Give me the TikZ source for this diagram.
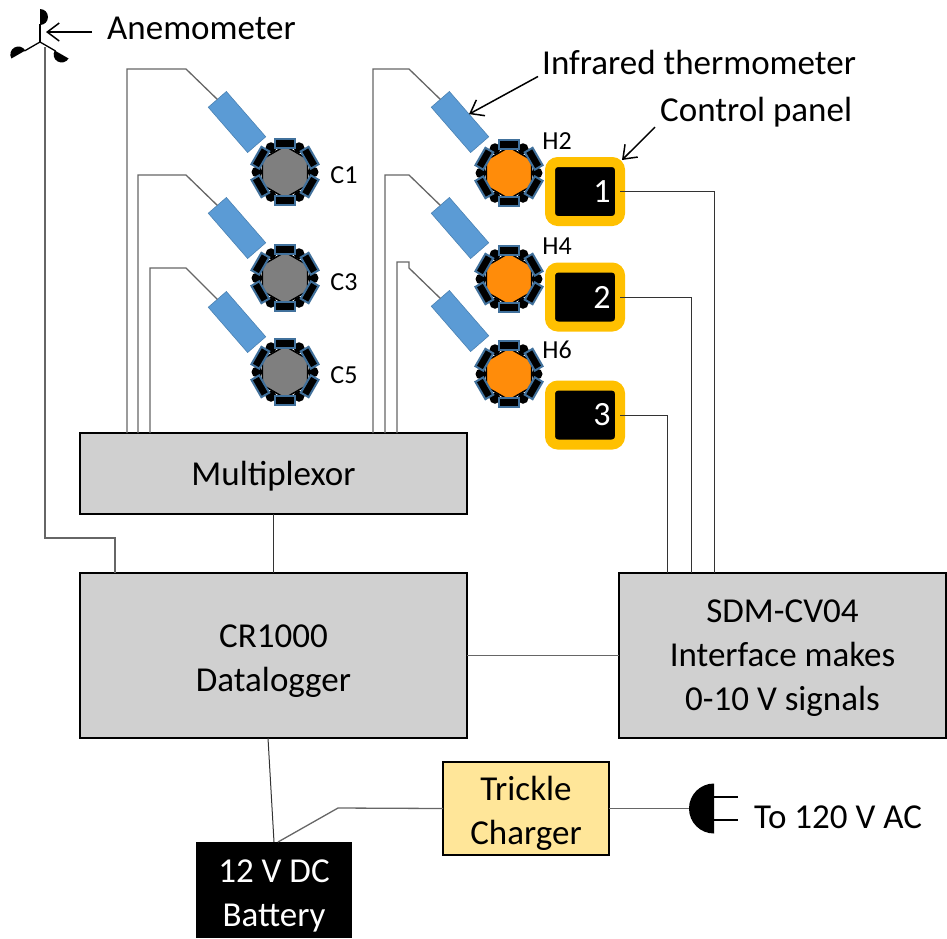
\documentclass[tikz,border=0pt]{standalone}
\usepackage{fontspec}
\setmainfont{Carlito}
\usepackage{tikz}
\usetikzlibrary{shapes.geometric,arrows.meta}

\definecolor{boxgray}{HTML}{D0D0D0}
\definecolor{sensorblue}{HTML}{5B9BD5}
\definecolor{rimblue}{HTML}{41719C}
\definecolor{hexorange}{HTML}{FF8C0A}
\definecolor{hexgray}{HTML}{7F7F7F}
\definecolor{panelgold}{HTML}{FFC000}
\definecolor{chargeryellow}{HTML}{FFE699}

\begin{document}
\begin{tikzpicture}[x=1pt,y=-1pt,font=\fontsize{35}{44}\selectfont,
   box/.style={draw=black,line width=2.5pt,fill=boxgray,inner sep=0pt,outer sep=0pt},
   boxtext/.style={align=center,inner sep=0pt},
   wire/.style={draw=black!60,line width=1.3pt},
   darkwire/.style={draw=black!80,line width=1pt},
   callout/.style={black,line width=1.5pt,-{Straight Barb[length=12pt,width=18pt]}},
   sensor/.style={rectangle,fill=sensorblue,draw=rimblue!60!sensorblue,line width=0.6pt,minimum width=60pt,minimum height=24pt,rotate=-49,inner sep=0pt,outer sep=0pt},
   hexbody/.style={regular polygon,regular polygon sides=6,shape border rotate=30,minimum size=52pt,inner sep=0pt,fill=#1,draw=black,line width=1.5pt},
   tile/.style={rectangle,fill=black,draw=rimblue,line width=2pt,minimum width=20pt,minimum height=9pt,inner sep=0pt},
   panel/.style={rectangle,fill=black,draw=panelgold,line width=10pt,rounded corners=8pt,minimum width=70pt,minimum height=59pt,inner sep=0pt,outer sep=0pt},
   hexlabel/.style={font=\fontsize{26}{28}\selectfont,inner sep=0pt},
   panelnum/.style={font=\fontsize{34}{36}\selectfont,text=white,inner sep=0pt}]
\useasboundingbox (0,0) rectangle (947,938);

% boxes
\node[box,minimum width=387pt,minimum height=81pt] (mux) at (273.5,473.5) {};
\node[boxtext,yshift=-3pt] at (mux) {Multiplexor};
\node[box,minimum width=387pt,minimum height=165pt] (logger) at (273.5,655.5) {};
\node[boxtext,yshift=-6pt] at (logger) {CR1000\\Datalogger};
\node[box,minimum width=327pt,minimum height=165pt] (sdm) at (782.5,655.5) {};
\node[boxtext,yshift=-3pt] at (sdm) {SDM-CV04\\Interface makes\\0-10 V signals};
\node[box,fill=chargeryellow,minimum width=166pt,minimum height=93pt] (charger) at (526,808.5) {};
\node[boxtext,yshift=-4.5pt] at (charger) {Trickle\\Charger};
\node[rectangle,fill=black,inner sep=0pt,outer sep=0pt,minimum width=156pt,minimum height=96pt] (battery) at (274,890) {};
\node[boxtext,text=white,yshift=-5.5pt] at (battery) {12 V DC\\Battery};

% sensors and their wires to the multiplexor
\foreach \name/\y in {c1/122,c3/228,c5/322} {
   \node[sensor] (\name) at (237,\y) {};
}
\foreach \name/\y in {h2/122,h4/228,h6/321} {
   \node[sensor] (\name) at (460,\y) {};
}
\foreach \name/\dx/\ytop in {c1/47/69,c3/58/175,c5/70/268} {
   \draw[wire] ([xshift=\dx pt]mux.north west) |- (186,\ytop) -- (\name.west);
}
\foreach \name/\dx/\ytop in {h2/293/69,h4/305/175} {
   \draw[wire] ([xshift=\dx pt]mux.north west) |- (409,\ytop) -- (\name.west);
}
\draw[wire] ([xshift=317pt]mux.north west) |- (409,262) -- (409,268) -- (h6.west);

% plots
\foreach \name/\x/\y/\col in {pc1/285/172/hexgray,pc3/285/278/hexgray,pc5/285/372/hexgray,ph2/509/173/hexorange,ph4/509/279/hexorange,ph6/509/374/hexorange} {
   \coordinate (\name) at (\x,\y);
   \foreach \a in {0,60,...,300} {
      \fill[black] (\name) ++(\a:28pt) circle (5.5pt);
   }
   \node[hexbody=\col] (\name body) at (\name) {};
   \foreach \a in {30,90,...,330} {
      \path (\name) ++(\a:28.5pt) node[tile,rotate=\a-90] {};
   }
}
\node[hexlabel] (lc1) at (344,175) {C1};
\node[hexlabel] (lc3) at (344,282) {C3};
\node[hexlabel] (lc5) at (344,375) {C5};
\node[hexlabel] (lh2) at (557,141) {H2};
\node[hexlabel] (lh4) at (557,246) {H4};
\node[hexlabel] (lh6) at (557,350) {H6};

% control panels
\foreach \name/\y/\num in {p1/191.5/1,p2/297/2,p3/415/3} {
   \node[panel] (\name) at (585,\y) {};
   \node[panelnum] at (602,\y) {\num};
}
\draw[darkwire] (p1.east) -| ([xshift=95pt]sdm.north west);
\draw[darkwire] (p2.east) -| ([xshift=72pt]sdm.north west);
\draw[darkwire] (p3.east) -| ([xshift=48pt]sdm.north west);

% other wires
\draw[darkwire] (mux.south) -- (logger.north);
\draw[wire] (logger.east) -- (sdm.west);
\draw[darkwire] ([xshift=-5.5pt]logger.south) -- (battery.north);
\draw[wire] (charger.west) -- (338,808) -- ([xshift=4pt]battery.north);

% anemometer
\coordinate (hub) at (40,42);
\foreach \a in {90,210,330} {
   \draw[black,line width=1.3pt] (hub) -- ++(\a:18pt);
   \fill[black] (hub) ++(\a:33pt) arc[start angle=\a,delta angle=-180,radius=8pt] -- cycle;
}
\draw[wire] ([xshift=35pt]logger.north west) |- (45,538) -- (45,47);
\node[anchor=west,inner sep=0pt] (anemo) at (107,28) {Anemometer};
\coordinate (anemostart) at (92,32);
\coordinate (anemotip) at (46,32);
\draw[callout] (anemostart) -- (anemotip);

% labels with arrows
\node[anchor=west,inner sep=0pt] (irlabel) at (542,62) {Infrared thermometer};
\node[anchor=west,inner sep=0pt] (cplabel) at (660,112) {Control panel};
\draw[callout] ([xshift=-4pt,yshift=-2pt]irlabel.south west) -- (h2.north);
\draw[callout] ([xshift=-5pt]cplabel.south west) -- ([xshift=2pt,yshift=2pt]p1.north east);

% plug
\coordinate (plug) at (714,808.5);
\draw[wire] (charger.east) -- (plug);
\fill[black] (plug) ++(90:25pt) arc[start angle=90,delta angle=180,radius=25pt] -- cycle;
\draw[black,line width=1.3pt] (plug) ++(0,-11.5) -- ++(24,0);
\draw[black,line width=1.3pt] (plug) ++(0,11.5) -- ++(24,0);
\node[anchor=west,inner sep=0pt] (mains) at (754,817) {To 120 V AC};
\end{tikzpicture}
\end{document}
